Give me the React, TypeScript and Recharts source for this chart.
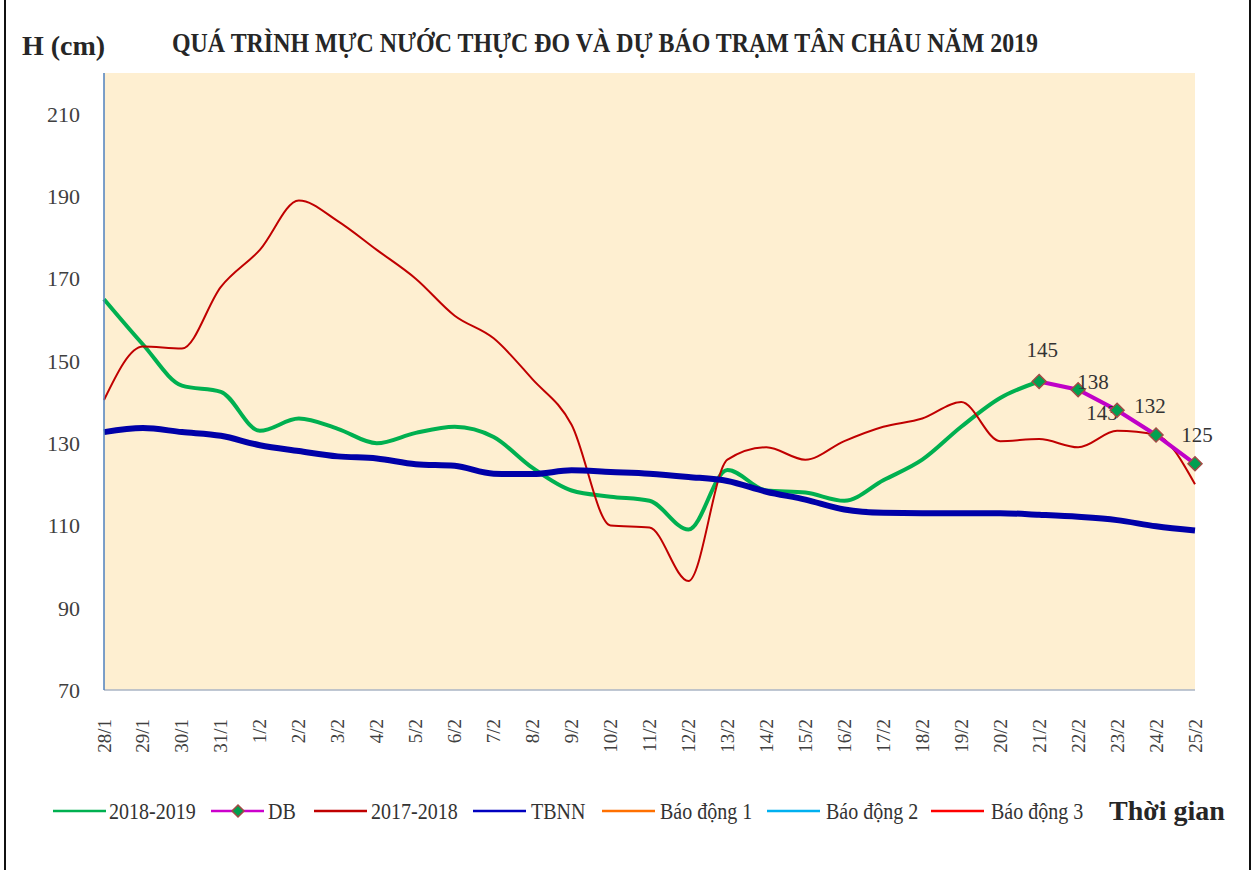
import React from "react";
import { LineChart, Line, XAxis, YAxis, CartesianGrid } from "recharts";

const FONT = '"Liberation Serif", "Times New Roman", serif';

const dates = [
  "28/1", "29/1", "30/1", "31/1", "1/2", "2/2", "3/2", "4/2", "5/2", "6/2",
  "7/2", "8/2", "9/2", "10/2", "11/2", "12/2", "13/2", "14/2", "15/2", "16/2",
  "17/2", "18/2", "19/2", "20/2", "21/2", "22/2", "23/2", "24/2", "25/2",
];

// 2018-2019 observed (cm)
const obs2019 = [
  165, 154, 144, 142.5, 133, 136, 133.5, 130, 132.5, 134,
  131.5, 124, 118.5, 117, 116, 109, 123.5, 118.5, 118, 116,
  121, 126, 134, 141, 145, null, null, null, null,
];

// forecast
const forecast = [
  null, null, null, null, null, null, null, null, null, null,
  null, null, null, null, null, null, null, null, null, null,
  null, null, null, null, 145, 143, 138, 132, 125,
];

// 2017-2018
const obs2018 = [
  140.5, 153.5, 153, 168, 177, 189, 184, 177, 170, 161,
  155.5, 145.5, 134.5, 110, 109.5, 96.5, 126, 129, 126, 130.5,
  134, 136, 140, 130.5, 131, 129, 133, 132, 120,
];

// trung binh nhieu nam
const tbnn = [
  132.7, 133.7, 132.7, 131.8, 129.5, 128.1, 126.8, 126.3, 124.9, 124.5,
  122.6, 122.5, 123.4, 123, 122.6, 121.8, 120.8, 118.2, 116.3, 113.9,
  113.1, 113, 113, 113, 112.6, 112.1, 111.3, 109.8, 108.8,
];

const yTicks = [70, 90, 110, 130, 150, 170, 190, 210];

const dbLabelText = ["145", "143", "138", "132", "125"];

const rows = dates.map((d, i) => ({
  date: d,
  obs2019: obs2019[i],
  db: forecast[i],
  obs2018: obs2018[i],
  tbnn: tbnn[i],
}));

const DB_START = forecast.findIndex((v) => v != null);
// label placement around each forecast point (dx, dy of baseline centre)
const labelOffsets = [
  [3, -25],
  [24, 30],
  [-24, -21],
  [-6, -22],
  [2, -22],
];

const DateTick = ({ x, y, payload }: any) => (
  <g transform={`translate(${x},${y})`}>
    <text
      transform="rotate(-90)"
      x={-29}
      y={0}
      textAnchor="end"
      dominantBaseline="central"
      fontSize={19}
      fontFamily={FONT}
      fill="#404040"
    >
      {payload.value}
    </text>
  </g>
);

const diamond = (cx: number, cy: number, r: number) =>
  `${cx},${cy - r} ${cx + r},${cy} ${cx},${cy + r} ${cx - r},${cy}`;

const DbDot = (props: any) => {
  const { cx, cy, index, value } = props;
  if (cx == null || cy == null || value == null) return <g key={`db-${index}`} />;
  const k = index - DB_START;
  const off = labelOffsets[k] || [0, -20];
  return (
    <g key={`db-${index}`}>
      <polygon points={diamond(cx, cy, 7)} fill="#00A050" stroke="#A34A45" strokeWidth={1.5} />
      <text
        x={cx + off[0]}
        y={cy + off[1]}
        textAnchor="middle"
        fontSize={21}
        fontFamily={FONT}
        fill="#333"
      >
        {dbLabelText[k]}
      </text>
    </g>
  );
};

const legendItems = [
  { name: "2018-2019", color: "#00B050", x: 53, tx: 109 },
  { name: "DB", color: "#CC00CC", x: 211, tx: 268, marker: true },
  { name: "2017-2018", color: "#C00000", x: 314, tx: 371 },
  { name: "TBNN", color: "#0000C0", x: 473, tx: 531 },
  { name: "Báo động 1", color: "#FF7000", x: 602, tx: 660 },
  { name: "Báo động 2", color: "#00B0F0", x: 767, tx: 826 },
  { name: "Báo động 3", color: "#FF0000", x: 931, tx: 991 },
];

export default function App() {
  return (
    <div style={{ position: "absolute", left: 0, top: 0, width: 1253, height: 870, background: "#fff", overflow: "hidden" }}>
      <div style={{ position: "absolute", left: 4, top: 0, width: 1243, height: 870, borderLeft: "2px solid #111", borderRight: "2px solid #111" }} />
      <div style={{ position: "absolute", left: 0, top: 0 }}>
        <LineChart width={1253} height={870} data={rows} margin={{ top: 73, right: 58, bottom: 110, left: 44 }}>
          <CartesianGrid horizontal={false} vertical={false} fill="#FEEFD1" />
          <XAxis
            dataKey="date"
            interval={0}
            tick={<DateTick />}
            tickLine={false}
            tickSize={0}
            tickMargin={0}
            height={70}
            axisLine={{ stroke: "#AAB4C4", strokeWidth: 1.5 }}
          />
          <XAxis
            xAxisId="top"
            orientation="top"
            dataKey="date"
            height={0}
            tick={false}
            tickLine={false}
            axisLine={{ stroke: "#4F81BD", strokeWidth: 1.5 }}
          />
          <YAxis
            yAxisId="left"
            domain={[70, 220]}
            ticks={yTicks}
            width={60}
            tickLine={false}
            tickSize={0}
            tickMargin={24}
            allowDataOverflow
            axisLine={{ stroke: "#4F81BD", strokeWidth: 1.5 }}
            tick={{ fontSize: 22, fill: "#404040", fontFamily: FONT }}
          />
          <YAxis
            yAxisId="right"
            orientation="right"
            domain={[70, 220]}
            width={0}
            tick={false}
            tickLine={false}
            axisLine={{ stroke: "#4F81BD", strokeWidth: 1.5 }}
          />
          <Line yAxisId="left" dataKey="obs2019" name="2018-2019" type="monotone" stroke="#00B050" strokeWidth={4} dot={false} isAnimationActive={false} />
          <Line yAxisId="left" dataKey="obs2018" name="2017-2018" type="monotone" stroke="#C00000" strokeWidth={2} dot={false} isAnimationActive={false} />
          <Line yAxisId="left" dataKey="tbnn" name="TBNN" type="monotone" stroke="#0000A8" strokeWidth={6} dot={false} isAnimationActive={false} />
          <Line yAxisId="left" dataKey="db" name="DB" type="linear" stroke="#C000C8" strokeWidth={4} dot={(p: any) => <DbDot {...p} />} isAnimationActive={false} />
        </LineChart>
      </div>
      <svg width={1253} height={870} style={{ position: "absolute", left: 0, top: 0, pointerEvents: "none" }}>
        <text x={22} y={55} fontSize={28} fontWeight="bold" fontFamily={FONT} fill="#262626">
          H (cm)
        </text>
        <text
          x={605}
          y={52}
          textAnchor="middle"
          fontSize={28}
          fontWeight="bold"
          fontFamily={FONT}
          fill="#262626"
          textLength={866}
          lengthAdjust="spacingAndGlyphs"
        >
          QUÁ TRÌNH MỰC NƯỚC THỰC ĐO VÀ DỰ BÁO TRẠM TÂN CHÂU NĂM 2019
        </text>
        {legendItems.map((it) => (
          <g key={it.name}>
            <line x1={it.x} x2={it.x + 53} y1={811} y2={811} stroke={it.color} strokeWidth={2.5} />
            {it.marker && <polygon points={diamond(it.x + 27, 811, 6)} fill="#00A050" stroke="#A34A45" strokeWidth={1.5} />}
            <text transform={`translate(${it.tx},819) scale(1,1.15)`} fontSize={20} fontFamily={FONT} fill="#333">
              {it.name}
            </text>
          </g>
        ))}
        <text x={1109} y={820} fontSize={28} fontWeight="bold" fontFamily={FONT} fill="#262626">
          Thời gian
        </text>
      </svg>
    </div>
  );
}
